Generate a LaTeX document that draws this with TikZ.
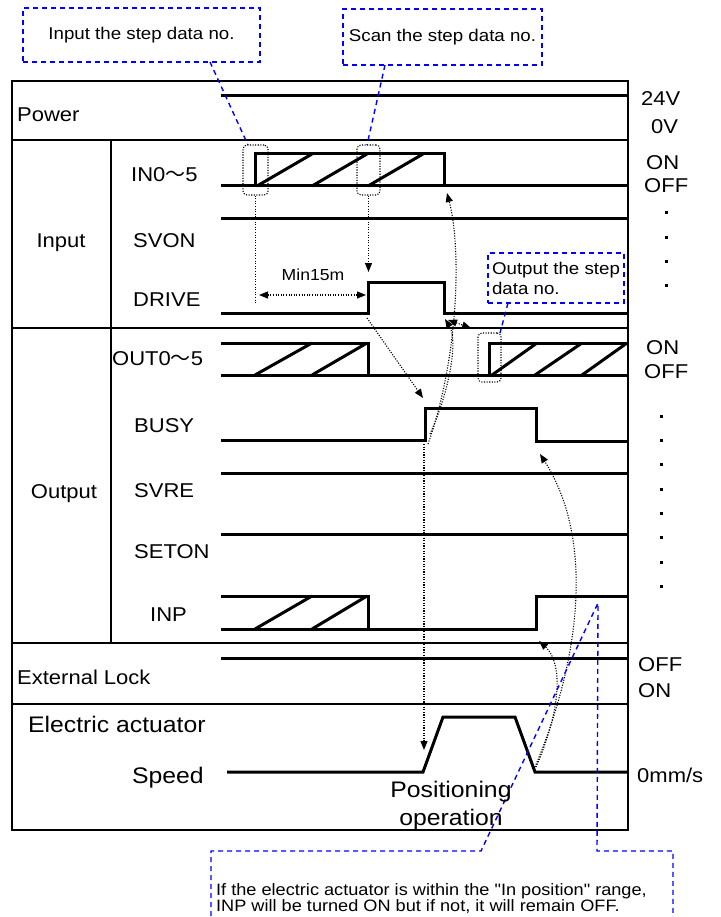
\documentclass[tikz,border=0pt]{standalone}
\usepackage{fontspec}
\setmainfont{Liberation Sans}[FakeStretch=1.1]
\newfontfamily\qfont{Liberation Sans}[FakeStretch=1.1, Ligatures=TeXOff]
\newfontfamily\cjkfont{Noto Sans CJK JP}
\usetikzlibrary{arrows.meta}
\newcommand\LabFont{\fontsize{20}{24}\selectfont}
\newcommand\BigFont{\fontsize{22.5}{26}\selectfont}
\newcommand\NoteFont{\fontsize{17}{20}\selectfont}
\newcommand\NoteTight{\qfont\fontsize{16.5}{16}\selectfont\lineskiplimit=-30pt\relax}
\newcommand\MinFont{\fontsize{16}{19}\selectfont}
\newcommand\wtilde{{\cjkfont ～}}
\begin{document}
\begin{tikzpicture}[x=1pt,y=-1pt,
  sig/.style={line width=3pt, line join=miter},
  frm/.style={line width=1.4pt},
  dotl/.style={line width=1.1pt, dash pattern=on 1.1pt off 1.5pt},
  arrtip/.style={-{Triangle[length=9pt,width=7pt]}},
  dblarr/.style={{Triangle[length=9pt,width=7pt]}-{Triangle[length=9pt,width=7pt]}},
  bluedash/.style={draw=blue, line width=1.4pt, dash pattern=on 5pt off 4pt},
  bluebox/.style={bluedash, inner sep=0pt, font=\NoteFont},
  dotbox/.style={dotl, draw, rounded corners=4pt, inner sep=0pt},
  lab/.style={inner sep=0pt, text height=14.3pt, text depth=0pt, font=\LabFont, anchor=west},
  bigl/.style={inner sep=0pt, text height=16.1pt, text depth=0pt, font=\BigFont, anchor=west},
  dotmark/.style={fill=black, minimum size=3pt, inner sep=0pt}
]
\useasboundingbox (0,0) rectangle (720,917);
\fill[white] (0,0) rectangle (720,917);

% ---------------- frame ----------------
\draw[frm] (12,81) rectangle (628,830);
\foreach \yy in {140,328,643,704} \draw[frm] (12,\yy) -- (628,\yy);
\draw[frm] (111,140) -- (111,643);

% ---------------- signals ----------------
% Power
\draw[sig] (221,96) -- (628,96);
% IN0~5
\draw[sig] (221,186) -- (628,186);
\draw[sig] (255,187.5) -- (255,154) -- (444,154) -- (444,186);
\draw[sig] (257,186) -- (312,154) (312,186) -- (367,154) (368,186) -- (423,154);
% SVON
\draw[sig] (221,219) -- (628,219);
% DRIVE
\draw[sig] (221,313) -- (368,313) -- (368,282) -- (444,282) -- (444,313) -- (628,313);
% OUT0~5
\draw[sig] (221,343) -- (368,343) -- (368,375);
\draw[sig] (221,375) -- (628,375);
\draw[sig] (489,376.5) -- (489,343) -- (628,343);
\draw[sig] (255,375) -- (312,343) (312,375) -- (367,343);
\draw[sig] (492,375) -- (537,343) (535,375) -- (582,343) (582,375) -- (627,343);
% BUSY
\draw[sig] (221,440) -- (425,440) -- (425,408) -- (536,408) -- (536,441) -- (628,441);
% SVRE, SETON
\draw[sig] (221,473) -- (628,473);
\draw[sig] (221,534) -- (628,534);
% INP
\draw[sig] (221,596) -- (368,596) -- (368,629);
\draw[sig] (221,629) -- (536,629) -- (536,596) -- (628,596);
\draw[sig] (255,629) -- (312,596) (312,629) -- (367,596);
% External lock
\draw[sig] (221,658) -- (628,658);
% Speed
\draw[sig] (227,772) -- (423,772) -- (443,717) -- (515,717) -- (535,772) -- (628,772);

% ---------------- dotted boxes ----------------
\node[dotbox, minimum width=25pt, minimum height=50pt] (db1) at (255.5,170) {};
\node[dotbox, minimum width=23pt, minimum height=50pt] (db2) at (368.5,170) {};
\node[dotbox, minimum width=23pt, minimum height=49pt] (db3) at (489.5,357.5) {};

% ---------------- coordinates for connectors ----------------
\coordinate (inlow) at (255.5,303);
\coordinate (drvtop) at (368.5,272);
\coordinate (m1) at (259,295);
\coordinate (m2) at (366,295);
\coordinate (drvrise) at (367,318);
\coordinate (busyrise) at (423,398);
\coordinate (busybot) at (424,444);
\coordinate (spdrise) at (424,750);
\coordinate (busyA) at (428,444);
\coordinate (infall) at (447,193);
\coordinate (busyB) at (430,434);
\coordinate (drvfall) at (445,319);
\coordinate (drvfall2) at (448,320);
\coordinate (outmark) at (471,328);
\coordinate (spdfall) at (535,767);
\coordinate (spdfall2) at (536,767);
\coordinate (busyfall) at (540,454);
\coordinate (inprise) at (539,641);

% ---------------- dotted connectors ----------------
\draw[dotl] (db1.south) -- (inlow);
\draw[dotl, arrtip] (db2.south) -- (drvtop);
\draw[dotl, dblarr] (m1) -- (m2);
\draw[dotl, arrtip] (drvrise) -- (busyrise);
\draw[dotl, arrtip] (busybot) -- (spdrise);
\draw[dotl, arrtip] (busyA) .. controls (458,360) and (462,250) .. (infall);
\draw[dotl, arrtip] (busyB) .. controls (450,390) and (458,340) .. (drvfall);
\draw[dotl, dblarr] (drvfall2) -- (outmark);
\draw[dotl, arrtip] (spdfall) .. controls (580,660) and (595,540) .. (busyfall);
\draw[dotl, arrtip] (spdfall2) .. controls (565,700) and (560,660) .. (inprise);

\node[font=\MinFont, inner sep=0pt] (minlbl) at (313,275) {Min15m};

% ---------------- blue callouts ----------------
\node[bluebox, draw, minimum width=237pt, minimum height=54pt] (n1) at (141.5,35) {Input the step data no.};
\node[bluebox, draw, minimum width=199pt, minimum height=56pt] (n2) at (442.5,37) {Scan the step data no.};
\node[bluebox, draw, minimum width=136pt, minimum height=50pt, align=left] (n3) at (556,278) {Output the step\\data no.};
\coordinate (n1p) at (210,62);
\coordinate (db1p) at (248,145);
\coordinate (n2p) at (385,65);
\coordinate (db2p) at (367,145);
\coordinate (n3p) at (508,303);
\coordinate (db3p) at (500,333);
\draw[bluedash] (n1p) -- (db1p);
\draw[bluedash] (n2p) -- (db2p);
\draw[bluedash] (n3p) -- (db3p);
\draw[bluedash] (211,925) -- (211,851) -- (481,851) -- (598,603) -- (597,851) -- (673,851) -- (673,925);
\node[font=\NoteTight, inner sep=0pt, anchor=north west, align=left] (n4) at (216,883.5) {If the electric actuator is within the "In position" range,\\INP will be turned ON but if not, it will remain OFF.};

% ---------------- left labels ----------------
\node[lab] (lpower) at (17,114) {Power};
\node[lab, anchor=center] (linput) at (61,240) {Input};
\node[lab, anchor=center] (loutput) at (64,491) {Output};
\node[lab] (lin) at (131,174) {IN0\wtilde5};
\node[lab] (lsvon) at (133,240) {SVON};
\node[lab] (ldrive) at (133,299) {DRIVE};
\node[lab] (lout) at (112,358) {OUT0\wtilde5};
\node[lab] (lbusy) at (134,425) {BUSY};
\node[lab] (lsvre) at (134,490) {SVRE};
\node[lab] (lseton) at (134,551) {SETON};
\node[lab] (linp) at (150,614) {INP};
\node[lab] (lext) at (17,677) {External Lock};
\node[bigl] (lact) at (28,724) {Electric actuator};
\node[bigl] (lspeed) at (132,775) {Speed};
\node[bigl, anchor=center] (lpos1) at (451,789) {Positioning};
\node[bigl, anchor=center] (lpos2) at (451,817) {operation};

% ---------------- right labels ----------------
\node[lab] (r24) at (641,98.5) {24V};
\node[lab] (r0) at (651,126) {0V};
\node[lab] (rion) at (646,162.5) {ON};
\node[lab] (rioff) at (644,185.5) {OFF};
\node[lab] (roon) at (646,347.5) {ON};
\node[lab] (rooff) at (644,371.5) {OFF};
\node[lab] (reoff) at (638,664.5) {OFF};
\node[lab] (reon) at (638,690.5) {ON};
\node[lab] (rspd) at (637,775) {0mm/s};

% dots
\foreach \yy in {213,237,261,285} \node[dotmark] at (666,\yy) {};
\foreach \yy in {416,440,464,489,513,537,562,586} \node[dotmark] at (661,\yy) {};
\end{tikzpicture}
\end{document}
